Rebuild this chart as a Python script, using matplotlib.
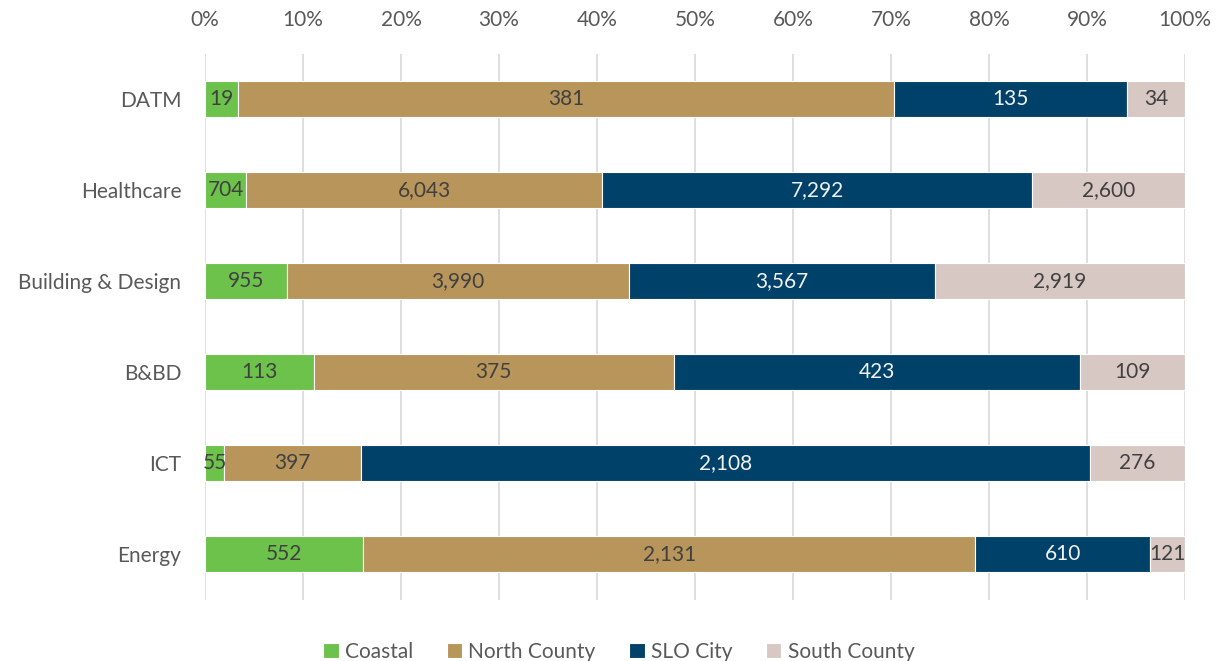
import numpy as np
import matplotlib as mpl
mpl.use('Agg')
import matplotlib.pyplot as plt

plt.rcParams['font.family'] = ['Lato', 'DejaVu Sans']

categories = ["DATM", "Healthcare", "Building & Design", "B&BD", "ICT", "Energy"]
series = ["Coastal", "North County", "SLO City", "South County"]
coastal = [19, 704, 955, 113, 55, 552]
north = [381, 6043, 3990, 375, 397, 2131]
slo = [135, 7292, 3567, 423, 2108, 610]
south = [34, 2600, 2919, 109, 276, 121]
colors = ["#6CC24A", "#B8955A", "#00416A", "#D8C8C4"]
text_colors = ["#404040", "#404040", "#F2F2F2", "#404040"]

vals = np.array([coastal, north, slo, south], dtype=float)
shares = vals / vals.sum(axis=0)

fig = plt.figure(figsize=(12.18, 6.61), dpi=100)
ax = fig.add_axes([0.1683, 0.093, 0.8047, 0.826])

fs = 15
y = np.arange(len(categories))
left = np.zeros(len(categories))
for i, name in enumerate(series):
    ax.barh(y, shares[i], left=left, height=0.4, color=colors[i],
            edgecolor='white', linewidth=0.8, label=name, zorder=3)
    for j in range(len(categories)):
        ax.text(left[j] + shares[i][j] / 2, y[j], f"{int(vals[i][j]):,}",
                ha='center', va='center', fontsize=fs, color=text_colors[i], zorder=4)
    left += shares[i]

ax.set_xlim(0, 1)
ax.set_ylim(5.5, -0.5)
ax.set_yticks(y)
ax.set_yticklabels(categories)
ax.set_xticks(np.linspace(0, 1, 11))
ax.set_xticklabels([f"{int(v)}%" for v in np.arange(0, 101, 10)])
ax.xaxis.tick_top()
ax.tick_params(axis='both', length=0, labelsize=fs, labelcolor='#595959')
ax.tick_params(axis='x', pad=17)
ax.tick_params(axis='y', pad=17)
for s in ax.spines.values():
    s.set_visible(False)
ax.grid(axis='x', color='#D9D9D9', linewidth=1.2, zorder=0)
ax.set_axisbelow(True)

leg = fig.legend(loc='lower center', ncol=4, frameon=False, fontsize=fs,
                 bbox_to_anchor=(0.508, -0.03), handlelength=0.75, handleheight=0.75,
                 handletextpad=0.3, columnspacing=1.6)
for t in leg.get_texts():
    t.set_color('#595959')

fig.savefig("out.png", dpi=100)
